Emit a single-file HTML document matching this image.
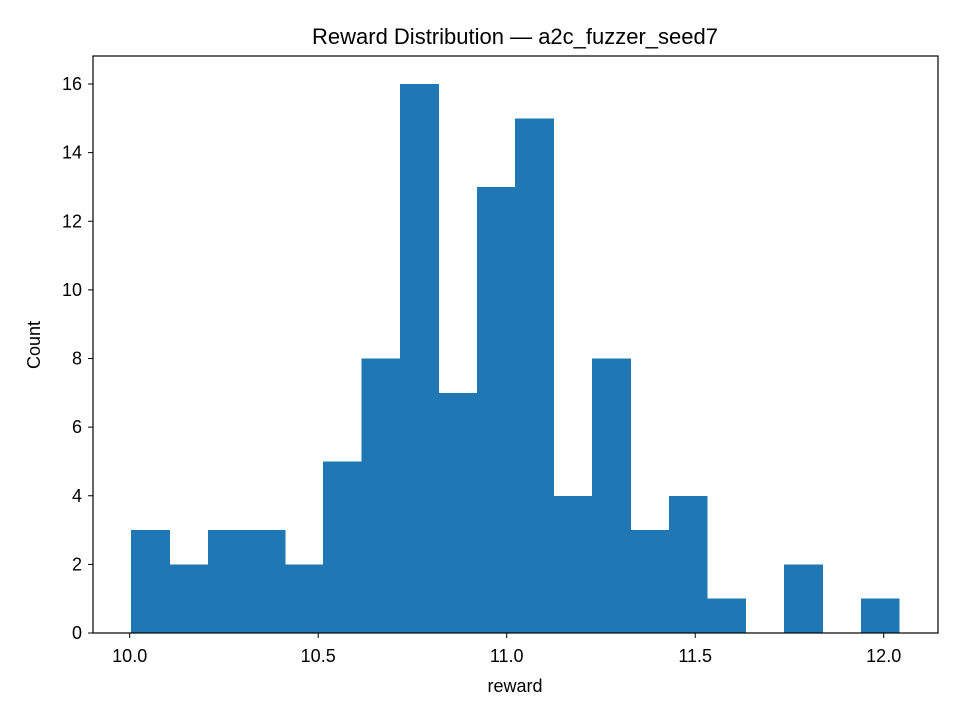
<!DOCTYPE html>
<html><head><meta charset="utf-8"><style>
body{margin:0;background:#fff;}
svg{display:block;font-family:"Liberation Sans","DejaVu Sans",sans-serif;}
</style></head><body>
<svg id="chart" width="960" height="720" viewBox="0 0 960 720">
<rect width="960" height="720" fill="#fff"/>
<text x="515" y="44" text-anchor="middle" font-size="22">Reward Distribution — a2c_fuzzer_seed7</text>
<g id="bars" shape-rendering="crispEdges"></g>
<g id="xticks"></g>
<g id="yticks"></g>
<rect x="93" y="56" width="845" height="577" fill="none" stroke="#000" stroke-width="1.2"/>
<text x="515" y="692" text-anchor="middle" font-size="18">reward</text>
<text transform="translate(40,345) rotate(-90)" text-anchor="middle" font-size="18">Count</text>
</svg>
<script>
const counts = [3,2,3,3,2,5,8,16,7,13,15,4,8,3,4,1,0,2,0,1];
const binStart = 10.004;
const binEnd = 12.041;
const xTicks = [10.0,10.5,11.0,11.5,12.0];
const xTickLabels = ["10.0","10.5","11.0","11.5","12.0"];
const yTicks = [0,2,4,6,8,10,12,14,16];
const yTickLabels = ["0","2","4","6","8","10","12","14","16"];

const X = v => 129.7 + (v - 10.0) * 377;
const Y = v => 633 - v * (549 / 16);
const NS = "http://www.w3.org/2000/svg";
const bars = document.getElementById('bars');
const w = (binEnd - binStart) / counts.length;
counts.forEach((c, i) => {
  if (c <= 0) return;
  const x0 = X(binStart + i * w), x1 = X(binStart + (i + 1) * w);
  const r = document.createElementNS(NS, 'rect');
  r.setAttribute('x', x0); r.setAttribute('width', x1 - x0 + 0.5);
  r.setAttribute('y', Y(c)); r.setAttribute('height', Y(0) - Y(c));
  r.setAttribute('fill', '#1f77b4');
  
  
  bars.appendChild(r);
});
const xg = document.getElementById('xticks');
xTicks.forEach((t, i) => {
  const l = document.createElementNS(NS, 'line');
  l.setAttribute('x1', X(t)); l.setAttribute('x2', X(t));
  l.setAttribute('y1', 633); l.setAttribute('y2', 638);
  l.setAttribute('stroke', '#000');
  
  
  xg.appendChild(l);
  const tx = document.createElementNS(NS, 'text');
  tx.setAttribute('x', X(t)); tx.setAttribute('y', 662);
  tx.setAttribute('text-anchor', 'middle'); tx.setAttribute('font-size', '18');
  tx.textContent = xTickLabels[i];
  
  
  xg.appendChild(tx);
});
const yg = document.getElementById('yticks');
yTicks.forEach((t, i) => {
  const l = document.createElementNS(NS, 'line');
  l.setAttribute('x1', 88); l.setAttribute('x2', 93);
  l.setAttribute('y1', Y(t)); l.setAttribute('y2', Y(t));
  l.setAttribute('stroke', '#000');
  
  
  yg.appendChild(l);
  const tx = document.createElementNS(NS, 'text');
  tx.setAttribute('x', 82); tx.setAttribute('y', Y(t) + 6);
  tx.setAttribute('text-anchor', 'end'); tx.setAttribute('font-size', '18');
  tx.textContent = yTickLabels[i];
  
  
  yg.appendChild(tx);
});
</script>
</body></html>
